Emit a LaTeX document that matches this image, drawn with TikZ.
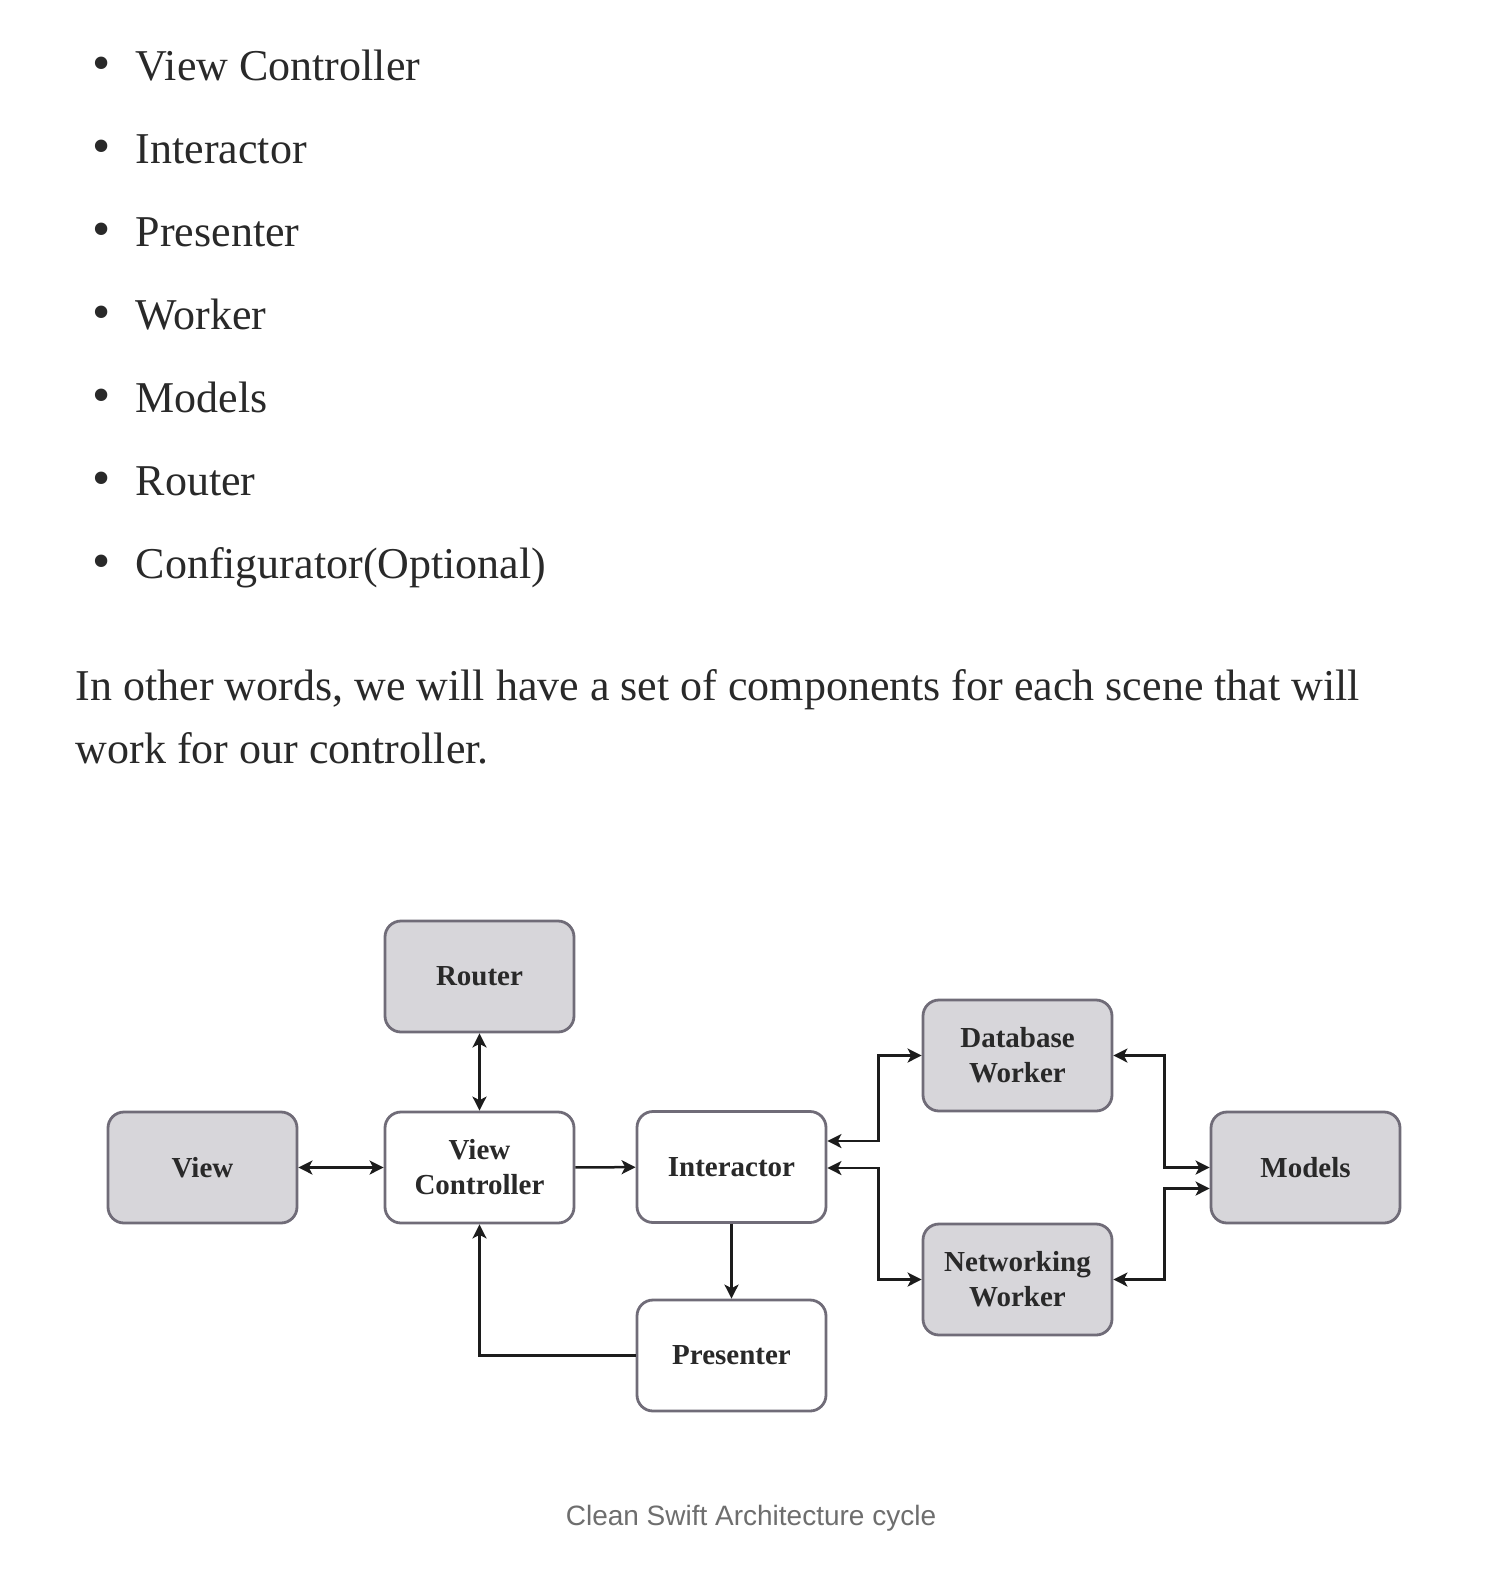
\documentclass[tikz,border=0pt]{standalone}
\usepackage{fontspec}
\setmainfont{Liberation Serif}
\newfontfamily\captionfont{Liberation Sans}
\usetikzlibrary{arrows.meta,calc}

\definecolor{bodytext}{RGB}{41,41,41}
\definecolor{captiongray}{RGB}{110,110,110}
\definecolor{boxfill}{RGB}{215,214,218}
\definecolor{boxedge}{RGB}{112,108,120}
\definecolor{linkline}{RGB}{28,28,28}

\tikzset{every picture/.style={line width=0.75pt}}
\tikzset{
  bodyline/.style={anchor=base west, inner sep=0pt, text=bodytext, font=\fontsize{22}{26}\selectfont},
  bulletdot/.style={anchor=base, inner sep=0pt, text=bodytext, font=\fontsize{26}{30}\selectfont},
  whitebox/.style={draw=boxedge, line width=1.4pt, fill=white, rounded corners=8pt,
    minimum width=94.5pt, minimum height=55.5pt, align=center, inner sep=2pt,
    font=\fontsize{14.5}{17.5}\selectfont\bfseries, text=bodytext},
  graybox/.style={whitebox, fill=boxfill},
  link/.style={draw=linkline, line width=1.25pt, -{Stealth[length=7pt,width=7pt,inset=1.8pt]}},
  twolink/.style={link, {Stealth[length=7pt,width=7pt,inset=1.8pt]}-{Stealth[length=7pt,width=7pt,inset=1.8pt]}}
}

\begin{document}
\begin{tikzpicture}[x=0.5pt,y=0.5pt,yscale=-1,xscale=1]
	\useasboundingbox (0,0) rectangle (1510,1576);
	\fill[white] (0,0) rectangle (1510,1576);

	% Bullet list
	\foreach \item [count=\i from 0] in {View Controller,Interactor,Presenter,Worker,Models,Router,Configurator(Optional)} {
		\node[bulletdot] (dot\i) at (102,80+83*\i) {•};
		\node[bodyline] (item\i) at (135,80+83*\i) {\item};
	}

	% Paragraph
	\node[bodyline] (para1) at (75,700) {In other words, we will have a set of components for each scene that will};
	\node[bodyline] (para2) at (75,763) {work for our controller.};

	% Boxes
	\node[graybox] (router) at (479.5,976.5) {Router};
	\node[graybox] (view) at (202.5,1167.5) {View};
	\node[whitebox] (vc) at (479.5,1167.5) {View\\Controller};
	\node[whitebox] (interactor) at (731.5,1167) {Interactor};
	\node[whitebox] (presenter) at (731.5,1355.5) {Presenter};
	\node[graybox] (dbworker) at (1017.5,1055.5) {Database\\Worker};
	\node[graybox] (networker) at (1017.5,1279.5) {Networking\\Worker};
	\node[graybox] (models) at (1305.5,1167.5) {Models};

	% Connectors
	\draw[twolink] (router) -- (vc);
	\draw[twolink] (view) -- (vc);
	\draw[link] (vc) -- (interactor);
	\draw[link] (interactor) -- (presenter);
	\draw[link] (presenter.west) -| (vc.south);
	\draw[twolink] ($(interactor.east)+(0,-26)$) -- ++(51,0) |- (dbworker.west);
	\draw[twolink] ($(interactor.east)+(0,1)$) -- ++(51,0) |- (networker.west);
	\draw[twolink] (dbworker.east) -- ++(51,0) |- (models.west);
	\draw[twolink] (networker.east) -- ++(51,0) |- ($(models.west)+(0,21)$);

	% Caption
	\node[anchor=base, inner sep=0pt, text=captiongray, font=\captionfont\fontsize{14}{17}\selectfont] (caption) at (751,1525) {Clean Swift Architecture cycle};

\end{tikzpicture}
\end{document}
